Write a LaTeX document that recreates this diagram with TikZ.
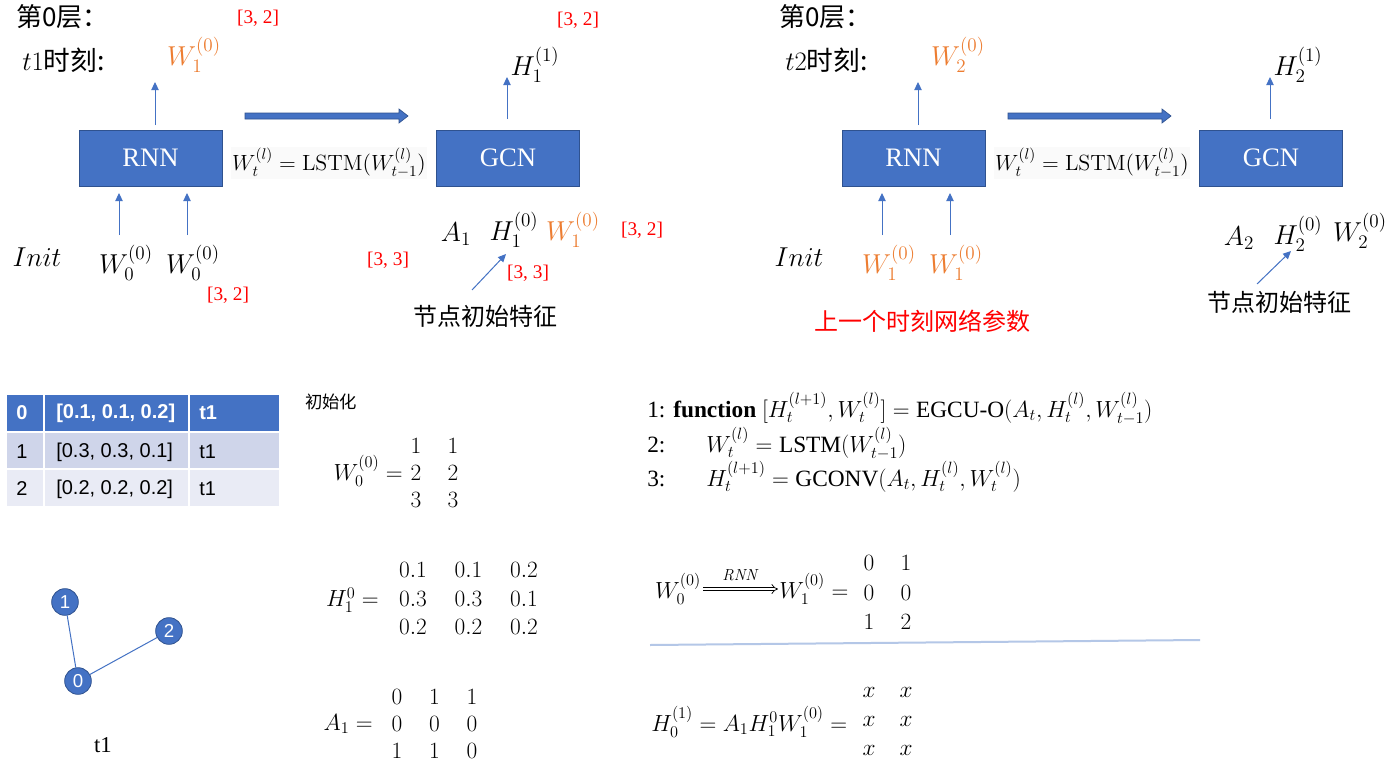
\RequirePackage{fix-cm}
\documentclass[tikz,border=0pt]{standalone}
\usepackage{mathtools}
\usepackage[no-math]{fontspec}
\setmainfont{Liberation Serif}
\newfontfamily\cjk{Noto Sans CJK SC}
\newfontfamily\tabsans{Liberation Sans}
\usetikzlibrary{arrows.meta,matrix,calc}
\definecolor{boxblue}{HTML}{4472C4}
\definecolor{boxedge}{HTML}{2F528F}
\definecolor{orng}{HTML}{ED7D31}
\definecolor{rowa}{HTML}{CFD5EA}
\definecolor{rowb}{HTML}{E9EBF5}
\definecolor{sepline}{HTML}{B4C7E7}
\definecolor{fgray}{HTML}{FAFAFA}
\newcommand\fsz[2]{\fontsize{#1}{#2}\selectfont}
\tikzset{
  box/.style={draw=boxedge, line width=0.6pt, fill=boxblue, text=white, minimum width=107.25pt, minimum height=42pt, inner sep=0pt, font=\fsz{20}{24}},
  arr/.style={draw=boxblue, line width=0.75pt, -{Triangle[length=6pt,width=5.5pt]}},
  redlab/.style={text=red, font=\fsz{14.5}{17}, inner sep=0pt},
  mlab/.style={font=\fsz{20.5}{24}, inner sep=0pt},
  olab/.style={mlab, text=orng},
  cjklab/.style={font=\cjk\fsz{18}{21}, inner sep=0pt},
  ttl/.style={font=\cjk\fsz{19.5}{23}, inner sep=0pt, anchor=west},
  formula/.style={fill=fgray, font=\fsz{16.5}{19}, inner sep=1pt},
  bigarr/.style={fill=boxblue, draw=boxedge, line width=0.5pt},
  gnode/.style={circle, fill=boxblue, draw=boxedge, line width=0.6pt, minimum size=20pt, inner sep=0pt, text=white, font=\tabsans\fsz{14}{16}},
  gedge/.style={draw=boxblue, line width=0.75pt},
  tabtxt/.style={font=\tabsans\fsz{15}{18}, inner sep=0pt, anchor=west},
  mat/.style={matrix of math nodes, inner sep=0pt, column sep=0pt, row sep=0pt, nodes={inner sep=0pt, font=\fsz{17.5}{20}}},
  eqlab/.style={font=\fsz{17.5}{20}, inner sep=0pt},
  algo/.style={font=\fsz{17.5}{20}, inner sep=0pt, anchor=base west},
}
\begin{document}
\begin{tikzpicture}[x=0.75pt, y=-0.75pt]
\useasboundingbox[fill=white] (0,0) rectangle (1389,764);

% ---------------- top left (t1) ----------------
\node[ttl] (ttlA) at (16,17) {第0层：};
\node[ttl, font=\cjk\fsz{20}{24}] (timeA) at (22,60) {$t1$时刻:};
\node[redlab] (rA1) at (258,18) {[3, 2]};
\node[olab] (wA1) at (194,55) {$W_1^{(0)}$};
\node[box] (rnnA) at (150.5,158) {RNN};
\node[box] (gcnA) at (508,158) {GCN};
\node[formula] (fA) at (329,163) {$W_t^{(l)} = \mathrm{LSTM}(W_{t-1}^{(l)})$};
\fill[bigarr] (245,113) -- (399,113) -- (399,109) -- (408,116) -- (399,123) -- (399,119) -- (245,119) -- cycle;
\coordinate (aAos) at (155,125);
\coordinate (aAoe) at (155,82);
\draw[arr] (aAos) -- (aAoe);
\node[redlab] (rA2) at (578,20) {[3, 2]};
\node[mlab] (hA1) at (535,65) {$H_1^{(1)}$};
\coordinate (aAgs) at (507,119);
\coordinate (aAge) at (507,77);
\draw[arr] (aAgs) -- (aAge);
\node[mlab] (initA) at (37,257) {$Init$};
\node[mlab] (wA01) at (126,263) {$W_0^{(0)}$};
\node[mlab] (wA02) at (193,263) {$W_0^{(0)}$};
\coordinate (aAi1s) at (119,235);
\coordinate (aAi1e) at (119,193);
\coordinate (aAi2s) at (187,235);
\coordinate (aAi2e) at (187,193);
\draw[arr] (aAi1s) -- (aAi1e);
\draw[arr] (aAi2s) -- (aAi2e);
\node[redlab] (rA3) at (228,295) {[3, 2]};
\node[redlab] (rA4) at (388,260) {[3, 3]};
\node[mlab] (aA) at (456,234) {$A_1$};
\node[mlab] (hA0) at (514,230) {$H_1^{(0)}$};
\node[olab] (wA1b) at (573,230) {$W_1^{(0)}$};
\node[redlab] (rA5) at (642,230) {[3, 2]};
\node[redlab] (rA6) at (528,273) {[3, 3]};
\node[cjklab] (featA) at (485,316) {节点初始特征};
\coordinate (dAs) at (472,290);
\coordinate (dAe) at (506,254);
\draw[arr] (dAs) -- (dAe);

% ---------------- top right (t2) ----------------
\node[ttl] (ttlB) at (779,17) {第0层：};
\node[ttl, font=\cjk\fsz{20}{24}] (timeB) at (785,60) {$t2$时刻:};
\node[olab] (wB2) at (958,55) {$W_2^{(0)}$};
\node[box] (rnnB) at (913.5,158) {RNN};
\node[box] (gcnB) at (1271,158) {GCN};
\node[formula] (fB) at (1092,163) {$W_t^{(l)} = \mathrm{LSTM}(W_{t-1}^{(l)})$};
\fill[bigarr] (1008,113) -- (1162,113) -- (1162,109) -- (1171,116) -- (1162,123) -- (1162,119) -- (1008,119) -- cycle;
\coordinate (aBos) at (918,125);
\coordinate (aBoe) at (918,82);
\draw[arr] (aBos) -- (aBoe);
\node[mlab] (hB1) at (1298,65) {$H_2^{(1)}$};
\coordinate (aBgs) at (1270,119);
\coordinate (aBge) at (1270,77);
\draw[arr] (aBgs) -- (aBge);
\node[mlab] (initB) at (799,257) {$Init$};
\node[olab] (wB11) at (889,263) {$W_1^{(0)}$};
\node[olab] (wB12) at (956,263) {$W_1^{(0)}$};
\coordinate (aBi1s) at (882,235);
\coordinate (aBi1e) at (882,193);
\coordinate (aBi2s) at (950,235);
\coordinate (aBi2e) at (950,193);
\draw[arr] (aBi1s) -- (aBi1e);
\draw[arr] (aBi2s) -- (aBi2e);
\node[cjklab, text=red] (prevB) at (922,321) {上一个时刻网络参数};
\node[mlab] (aB) at (1239,238) {$A_2$};
\node[mlab] (hB0) at (1298,234) {$H_2^{(0)}$};
\node[mlab] (wB2b) at (1360,231) {$W_2^{(0)}$};
\node[cjklab] (featB) at (1279,302) {节点初始特征};
\coordinate (dBs) at (1257,284);
\coordinate (dBe) at (1291,251);
\draw[arr] (dBs) -- (dBe);

% ---------------- table ----------------
\fill[boxblue] (7,395) rectangle (43,431);
\fill[boxblue] (45,395) rectangle (188,431);
\fill[boxblue] (190,395) rectangle (279,431);
\fill[rowa] (7,433) rectangle (43,468);
\fill[rowa] (45,433) rectangle (188,468);
\fill[rowa] (190,433) rectangle (279,468);
\fill[rowb] (7,470) rectangle (43,506);
\fill[rowb] (45,470) rectangle (188,506);
\fill[rowb] (190,470) rectangle (279,506);
\node[tabtxt, text=white, font=\tabsans\bfseries\fsz{15}{18}] (t00) at (16,413) {0};
\node[tabtxt, text=white, font=\tabsans\bfseries\fsz{15}{18}] (t01) at (56,413) {[0.1, 0.1, 0.2]};
\node[tabtxt, text=white, font=\tabsans\bfseries\fsz{15}{18}] (t02) at (199,413) {t1};
\node[tabtxt] (t10) at (16,452) {1};
\node[tabtxt] (t11) at (56,452) {[0.3, 0.3, 0.1]};
\node[tabtxt] (t12) at (199,452) {t1};
\node[tabtxt] (t20) at (16,489) {2};
\node[tabtxt] (t21) at (56,489) {[0.2, 0.2, 0.2]};
\node[tabtxt] (t22) at (199,489) {t1};

% ---------------- graph ----------------
\node[gnode] (g1) at (65,602) {1};
\node[gnode] (g2) at (169,631) {2};
\node[gnode] (g0) at (78,681) {0};
\draw[gedge] (g1) -- (g0);
\draw[gedge] (g0) -- (g2);
\node[font=\fsz{17}{20}, inner sep=0pt] (gt) at (103,745) {t1};

% ---------------- matrices ----------------
\node[font=\cjk\fsz{13}{16}, inner sep=0pt, anchor=west] (init) at (305,402) {初始化};
\node[eqlab, anchor=east] (wlab) at (403,471) {$W_0^{(0)} =$};
\matrix[mat, nodes={minimum width=27.75pt, minimum height=20.6pt}] (mW) at (434.5,473) {
1 & 1 \\ 2 & 2 \\ 3 & 3 \\};
\node[eqlab, anchor=east] (hlab) at (379,600) {$H_1^0 =$};
\matrix[mat, nodes={minimum width=41.6pt, minimum height=21.4pt}] (mH) at (468.5,598.5) {
0.1 & 0.1 & 0.2 \\ 0.3 & 0.3 & 0.1 \\ 0.2 & 0.2 & 0.2 \\};
\node[eqlab, anchor=east] (alab) at (373,724) {$A_1 =$};
\matrix[mat, nodes={minimum width=28.1pt, minimum height=20.6pt}] (mA) at (434.5,724) {
0 & 1 & 1 \\ 0 & 0 & 0 \\ 1 & 1 & 0 \\};

% ---------------- algorithm ----------------
\node[algo] (l1n) at (647,417) {1:};
\node[algo] (l1) at (673,417) {\textbf{function} $[H_t^{(l+1)}, W_t^{(l)}] = \text{EGCU-O}(A_t, H_t^{(l)}, W_{t-1}^{(l)})$};
\node[algo] (l2n) at (647,452) {2:};
\node[algo] (l2) at (706,452) {$W_t^{(l)} = \text{LSTM}(W_{t-1}^{(l)})$};
\node[algo] (l3n) at (647,486) {3:};
\node[algo] (l3) at (706,486) {$H_t^{(l+1)} = \text{GCONV}(A_t, H_t^{(l)}, W_t^{(l)})$};

% ---------------- bottom right ----------------
\node[eqlab] (bw0) at (678,589) {$W_0^{(0)}$};
\node[eqlab, anchor=west] (bw1) at (779,589) {$W_1^{(0)} =$};
\draw[double, double distance=2pt, line width=0.55pt, -{Implies}] ($(bw0.east)+(2,0)$) -- ($(bw1.west)+(-1,0)$);
\node[font=\fsz{12}{14}, inner sep=0pt] (rnnlab) at (741,575) {$\mathit{RNN}$};
\matrix[mat, nodes={minimum width=27.75pt, minimum height=22.1pt}] (mW1) at (887.5,592.5) {
0 & 1 \\ 0 & 0 \\ 1 & 2 \\};
\coordinate (sepA) at (650,645);
\coordinate (sepB) at (1200,640);
\draw[sepline, line width=1.5pt] (sepA) -- (sepB);
\node[eqlab, anchor=west] (hEq) at (651,722) {$H_0^{(1)} = A_1H_1^0W_1^{(0)} =$};
\matrix[mat, nodes={minimum width=27.75pt, minimum height=21.75pt}] (mX) at (887.5,721) {
x & x \\ x & x \\ x & x \\};
\end{tikzpicture}
\end{document}
